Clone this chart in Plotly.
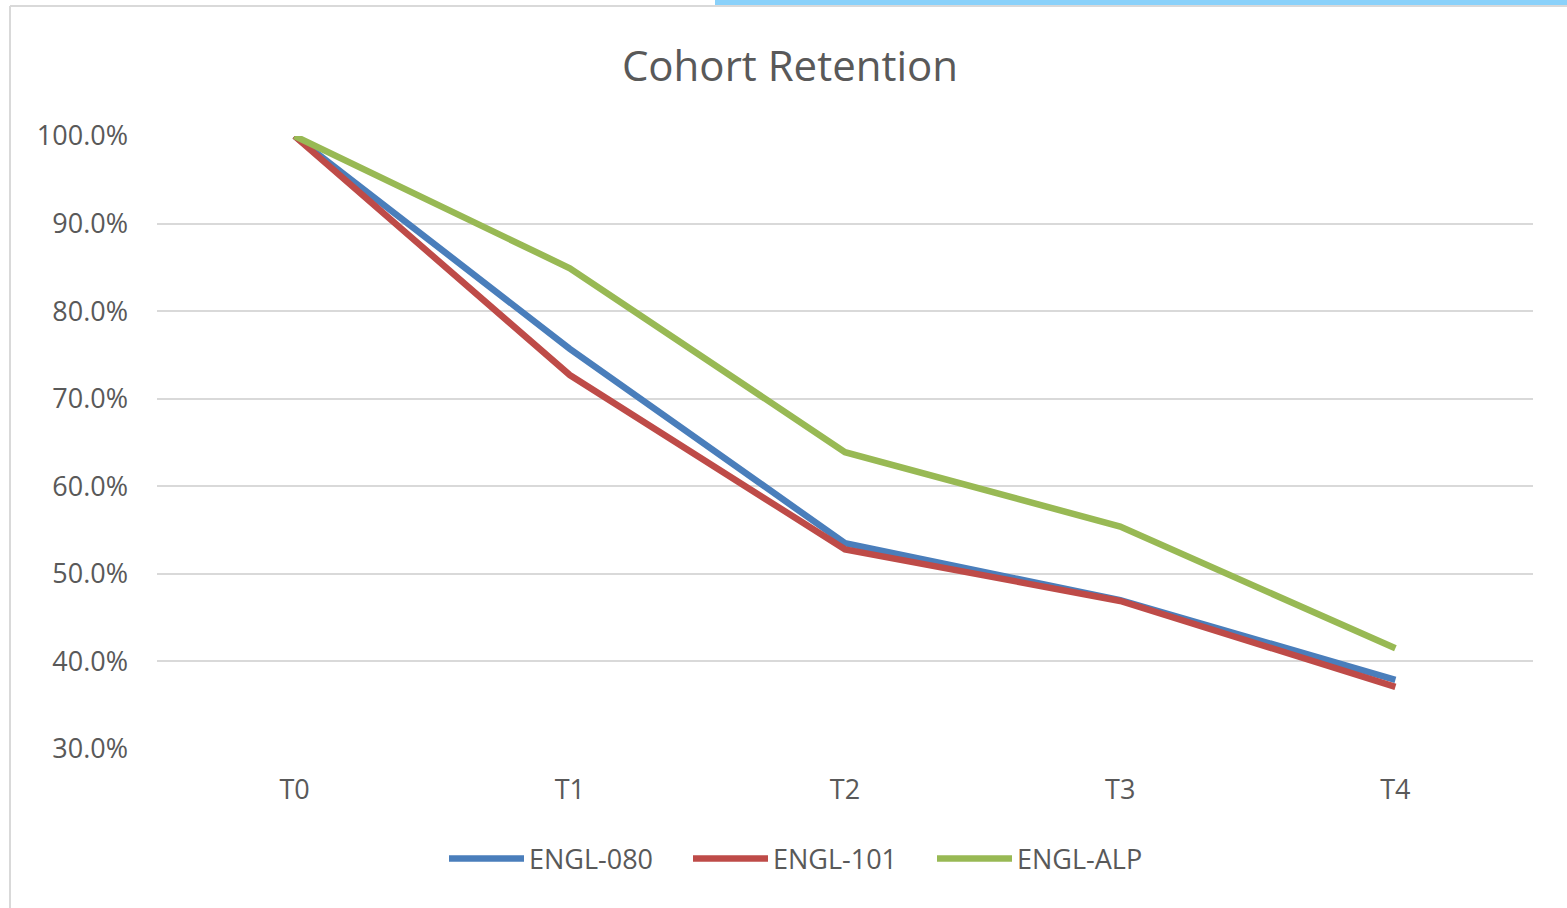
import plotly.graph_objects as go

categories = ["T0", "T1", "T2", "T3", "T4"]
engl_080 = [1.000, 0.757, 0.535, 0.470, 0.379]
engl_101 = [1.000, 0.727, 0.528, 0.469, 0.371]
engl_alp = [1.000, 0.849, 0.639, 0.554, 0.415]
series_names = ["ENGL-080", "ENGL-101", "ENGL-ALP"]
colors = ["#4A7EBB", "#BE4B48", "#98B954"]

W, H = 1567, 908
L, T = 157, 136
R = W - 1533
B = H - 749
pw, ph = W - L - R, H - T - B

fig = go.Figure()
for name, vals, c in zip(series_names, [engl_080, engl_101, engl_alp], colors):
    fig.add_trace(go.Scatter(x=categories, y=vals, mode="lines", name=name,
                             line=dict(color=c, width=6.5)))

def px(x):
    return (x - L) / pw

def py(y):
    return (H - B - y) / ph

shapes = [
    dict(type="rect", xref="paper", yref="paper", x0=px(715), x1=px(1575), y0=py(5), y1=py(-10),
         fillcolor="#8AD1FA", line=dict(width=0), layer="above"),
    dict(type="line", xref="paper", yref="paper", x0=px(10), x1=px(1575), y0=py(6), y1=py(6),
         line=dict(color="#D9D9D9", width=2)),
    dict(type="line", xref="paper", yref="paper", x0=px(10), x1=px(10), y0=py(6), y1=py(920),
         line=dict(color="#D9D9D9", width=2)),
]

fig.update_layout(
    width=W, height=H,
    margin=dict(l=L, r=R, t=T, b=B, pad=0),
    paper_bgcolor="white", plot_bgcolor="white",
    font=dict(family="Open Sans, DejaVu Sans, sans-serif", color="#595959", size=20),
    title=dict(text="Cohort Retention", x=790 / W, xref="container", xanchor="center",
               y=1 - 66 / H, yref="container", yanchor="middle",
               font=dict(size=42, color="#595959", family="Open Sans, sans-serif")),
    shapes=shapes,
    showlegend=True,
    legend=dict(orientation="h", x=px(810), xanchor="center", y=py(859), yanchor="middle",
                font=dict(size=27, color="#595959"), itemwidth=75, traceorder="normal",
                entrywidth=154, bgcolor="rgba(0,0,0,0)"),
)
fig.update_xaxes(type="category", range=[-0.5, 4.5], showgrid=False, showline=False, zeroline=False,
                 ticks="", ticklabelstandoff=22, tickfont=dict(size=27, color="#595959"))
fig.update_yaxes(range=[0.3, 1.0], dtick=0.1, tickformat=".1%", showgrid=True, gridcolor="#D9D9D9",
                 gridwidth=2, zeroline=False, showline=False, ticks="", ticklabelstandoff=28,
                 tickfont=dict(size=27, color="#595959"))

fig.write_html("out.html", config={"displayModeBar": False},
               post_script="document.body.style.margin='0';")
